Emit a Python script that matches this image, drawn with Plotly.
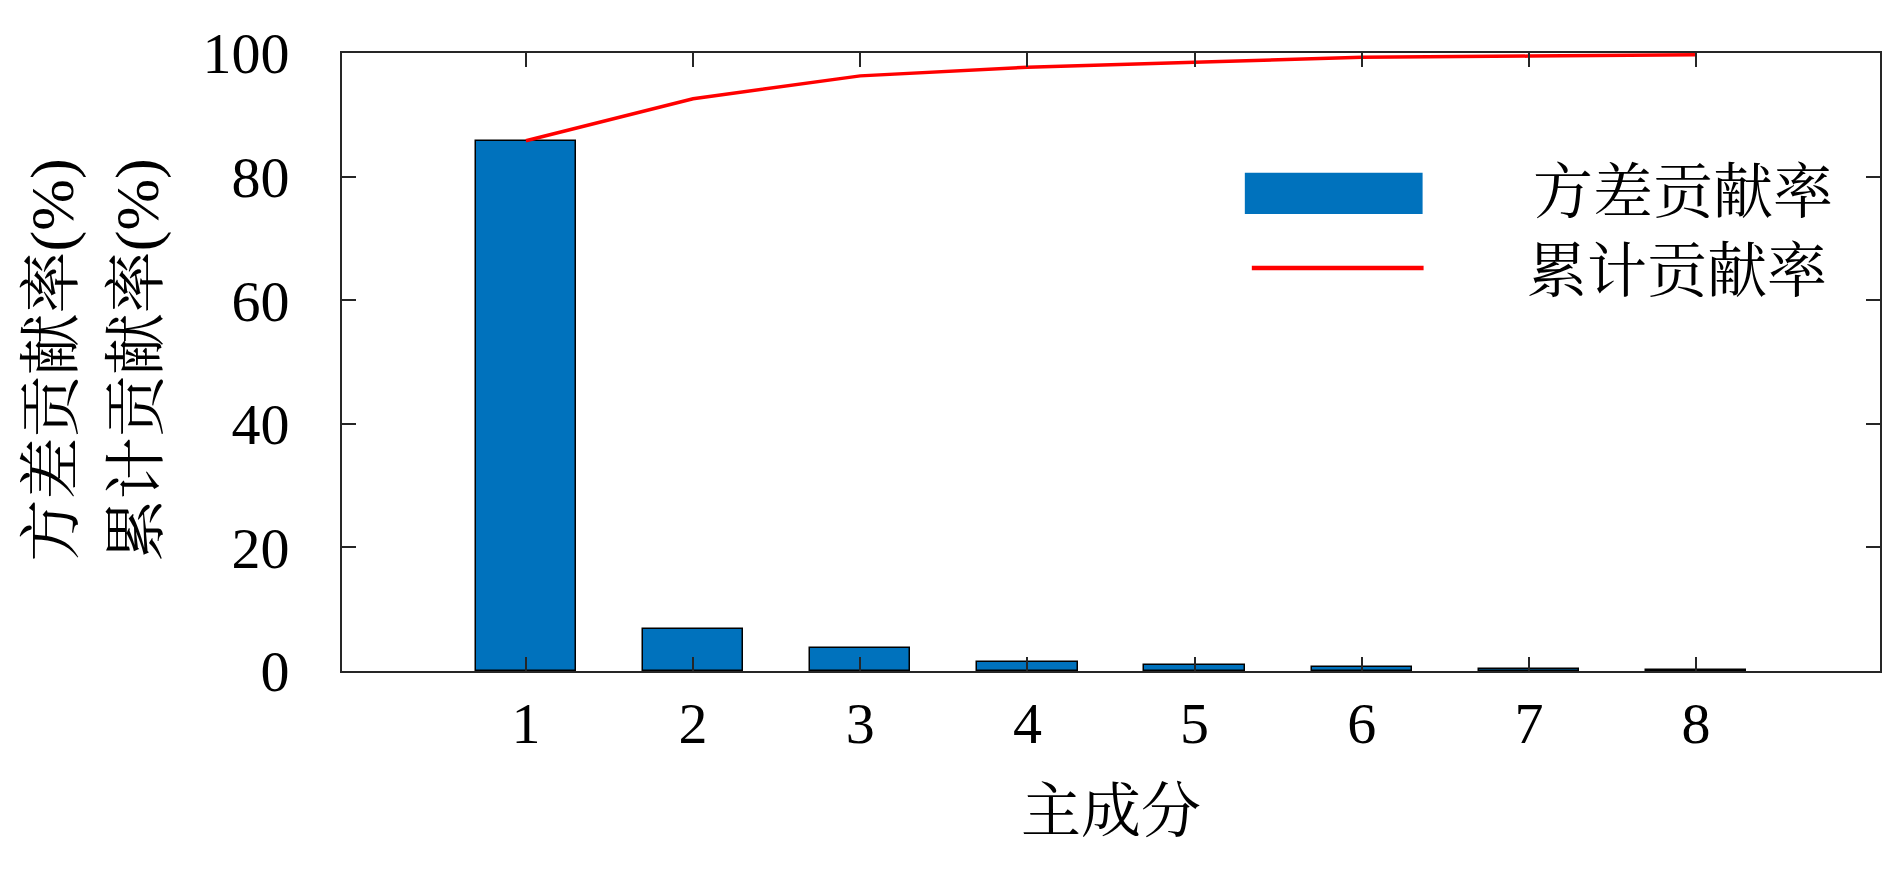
import plotly.graph_objects as go

components = [1, 2, 3, 4, 5, 6, 7, 8]
variance_pct = [85.8, 6.8, 3.7, 1.4, 0.9, 0.7, 0.3, 0.2]
cumulative_pct = [85.8, 92.6, 96.3, 97.7, 98.5, 99.3, 99.5, 99.7]
y_ticks = [0, 20, 40, 60, 80, 100]
legend_names = ["方差贡献率", "累计贡献率"]
x_title = "主成分"
y_titles = ["方差贡献率(%)", "累计贡献率(%)"]

FONT = "Liberation Serif, Times New Roman, Noto Serif CJK SC, Noto Sans CJK SC"
AX = "#262626"
BLUE = "rgb(0,114,189)"

fig = go.Figure()
fig.add_trace(go.Bar(x=components, y=variance_pct, width=0.6, name=legend_names[0],
                     marker=dict(color=BLUE, line=dict(color="black", width=1.5)),
                     showlegend=False))
fig.add_trace(go.Scatter(x=components, y=cumulative_pct, mode="lines", name=legend_names[1],
                         line=dict(color="rgb(255,0,0)", width=3.5), showlegend=False))

# page offset (body margin) = 8 px
OFF = 8
W, H = 1876, 855
L, T = 342 - OFF, 53 - OFF
pw, ph = 1540, 618
R = W - L - pw
B = H - T - ph

def px(x):  # page pixel -> paper x
    return (x - OFF - L) / pw

def py(y):  # page pixel -> paper y
    return (T + ph - (y - OFF)) / ph

axis_common = dict(showline=True, linecolor=AX, linewidth=2, mirror="ticks",
                   ticks="inside", ticklen=14, tickwidth=2, tickcolor=AX,
                   showgrid=False, zeroline=False,
                   tickfont=dict(family=FONT, size=58, color="black"))

fig.update_xaxes(range=[-0.1, 9.1], tickvals=components, ticklabelstandoff=0, **axis_common)
fig.update_yaxes(range=[0, 100], tickvals=y_ticks, ticklabelstandoff=39, **axis_common)

# custom legend
fig.add_shape(type="rect", xref="paper", yref="paper",
              x0=px(1246), x1=px(1424), y0=py(214), y1=py(172.7),
              fillcolor=BLUE, line=dict(width=0))
fig.add_shape(type="line", xref="paper", yref="paper",
              x0=px(1253), x1=px(1425), y0=py(268), y1=py(268),
              line=dict(color="rgb(255,0,0)", width=4.5))
fig.add_annotation(xref="paper", yref="paper", x=px(1533), y=py(193), xanchor="left", yanchor="middle",
                   text=legend_names[0], showarrow=False, font=dict(family=FONT, size=60, color="black"))
fig.add_annotation(xref="paper", yref="paper", x=px(1527), y=py(272), xanchor="left", yanchor="middle",
                   text=legend_names[1], showarrow=False, font=dict(family=FONT, size=60, color="black"))

# axis titles
fig.add_annotation(xref="paper", yref="paper", x=0.5, y=py(812), xanchor="center", yanchor="middle",
                   text=x_title, showarrow=False, font=dict(family=FONT, size=60, color="black"))
fig.add_annotation(xref="paper", yref="paper", x=px(52), y=py(360), xanchor="center", yanchor="middle",
                   text=y_titles[0], textangle=-90, showarrow=False,
                   font=dict(family=FONT, size=62, color="black"))
fig.add_annotation(xref="paper", yref="paper", x=px(137), y=py(360), xanchor="center", yanchor="middle",
                   text=y_titles[1], textangle=-90, showarrow=False,
                   font=dict(family=FONT, size=62, color="black"))

fig.update_layout(width=W, height=H, margin=dict(l=L, r=R, t=T, b=B, pad=0),
                  plot_bgcolor="white", paper_bgcolor="white", bargap=0)

fig.write_html("out.html")
